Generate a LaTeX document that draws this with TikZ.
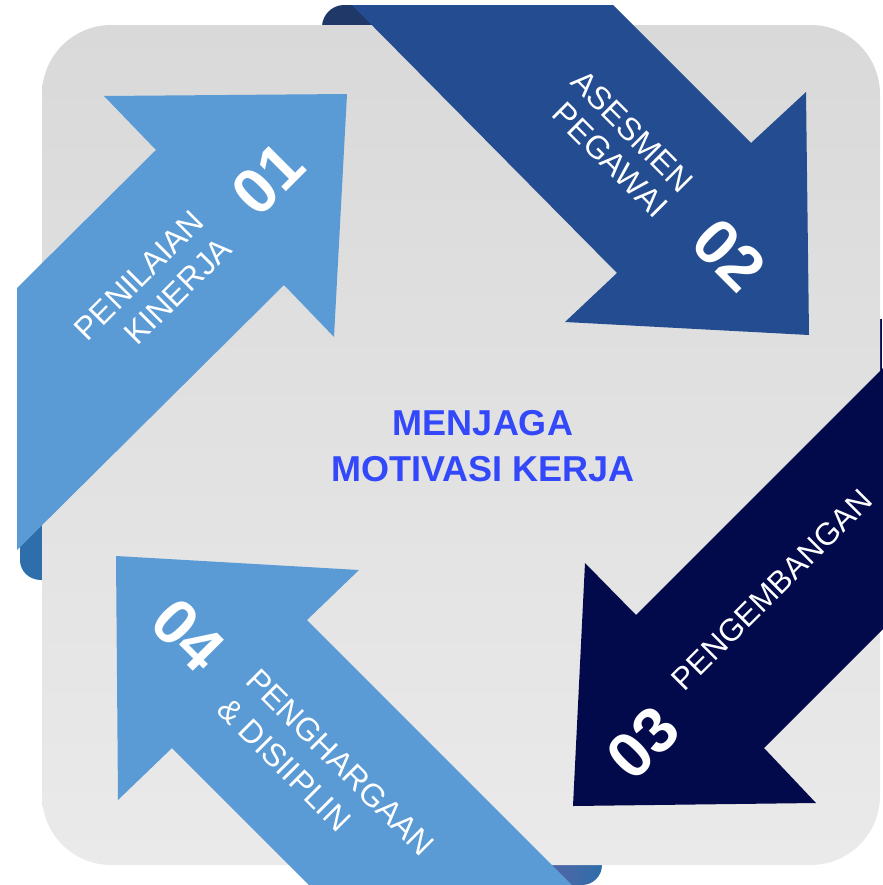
\documentclass[tikz,border=0pt]{standalone}
\usepackage{fontspec}
\setmainfont{Liberation Sans}
\definecolor{lblue}{RGB}{91,155,213}
\definecolor{mblue}{RGB}{35,76,145}
\definecolor{navyb}{RGB}{2,10,75}
\definecolor{foldA}{RGB}{46,110,170}
\definecolor{foldB}{RGB}{31,56,104}
\definecolor{foldC}{RGB}{90,100,165}
\definecolor{titleblue}{RGB}{50,72,250}
\definecolor{bgtop}{RGB}{217,217,217}
\definecolor{bgbot}{RGB}{234,234,234}
\begin{document}
\begin{tikzpicture}[x=0.75pt,y=-0.75pt,
  lbl/.style={text=white,inner sep=0pt,font=\fontsize{24}{30}\selectfont},
  num/.style={text=white,inner sep=0pt,font=\fontsize{48}{50}\selectfont\bfseries},
  ttl/.style={text=titleblue,inner sep=0pt,align=center,font=\fontsize{27}{35}\selectfont\bfseries}]
\useasboundingbox (0,0) rectangle (882,885);
% folds (back side of the arrows)
\fill[foldA] (42,500) -- (20,500) -- (20,560) .. controls (20,571) and (29,580) .. (41,580) -- (42,580) -- cycle;
\fill[foldB] (380,27) -- (360,5) -- (344,5) .. controls (332,5) and (322,15) .. (322,27) -- cycle;
\fill[navyb] (876,319) -- (882,319) -- (882,400) -- (876,400) -- cycle;
\shade[left color=foldC,right color=foldA] (540,860) -- (602,860) -- (602,865) .. controls (602,876) and (593,885) .. (582,885) -- (540,885) -- cycle;
% card
\shade[top color=bgtop,bottom color=bgbot,rounded corners=52pt] (42,25) rectangle (880,865);
% arrows
\fill[lblue] (17,288) -- (156,150) -- (104,96) -- (347,94) -- (334,337) -- (284,285) -- (17,550) -- cycle;
\fill[mblue] (352,5) -- (613,5) -- (751,143) -- (806,92) -- (809,335) -- (565,322) -- (617,273) -- cycle;
\fill[navyb] (885,366) -- (885,627) -- (764,748) -- (816,803) -- (573,806) -- (585,563) -- (636,615) -- cycle;
\fill[lblue] (116,556) -- (359,570) -- (307,620) -- (572,885) -- (309,885) -- (172,748) -- (118,800) -- cycle;
% texts
\node[num,rotate=45] (n1) at (268,179) {01};
\node[num,rotate=-45] (n2) at (729,255) {02};
\node[num,rotate=45] (n3) at (643,743) {03};
\node[num,rotate=-45] (n4) at (188,635) {04};
\node[lbl,rotate=45,align=right] (l1) at (153,289) {PENILAIAN\\[-1pt]KINERJA};
\node[lbl,rotate=-45,align=right] (l2) at (620,144) {ASESMEN\\[-3pt]PEGAWAI};
\node[lbl,rotate=45,font=\fontsize{23.5}{30}\selectfont] (l3) at (772,590) {PENGEMBANGAN};
\node[lbl,rotate=-45,align=left] (l4) at (326,777) {PENGHARGAAN\\[1pt]\&\ DISIIPLIN};
\node[ttl] (t) at (483,446) {MENJAGA\\MOTIVASI KERJA};
\end{tikzpicture}
\end{document}
